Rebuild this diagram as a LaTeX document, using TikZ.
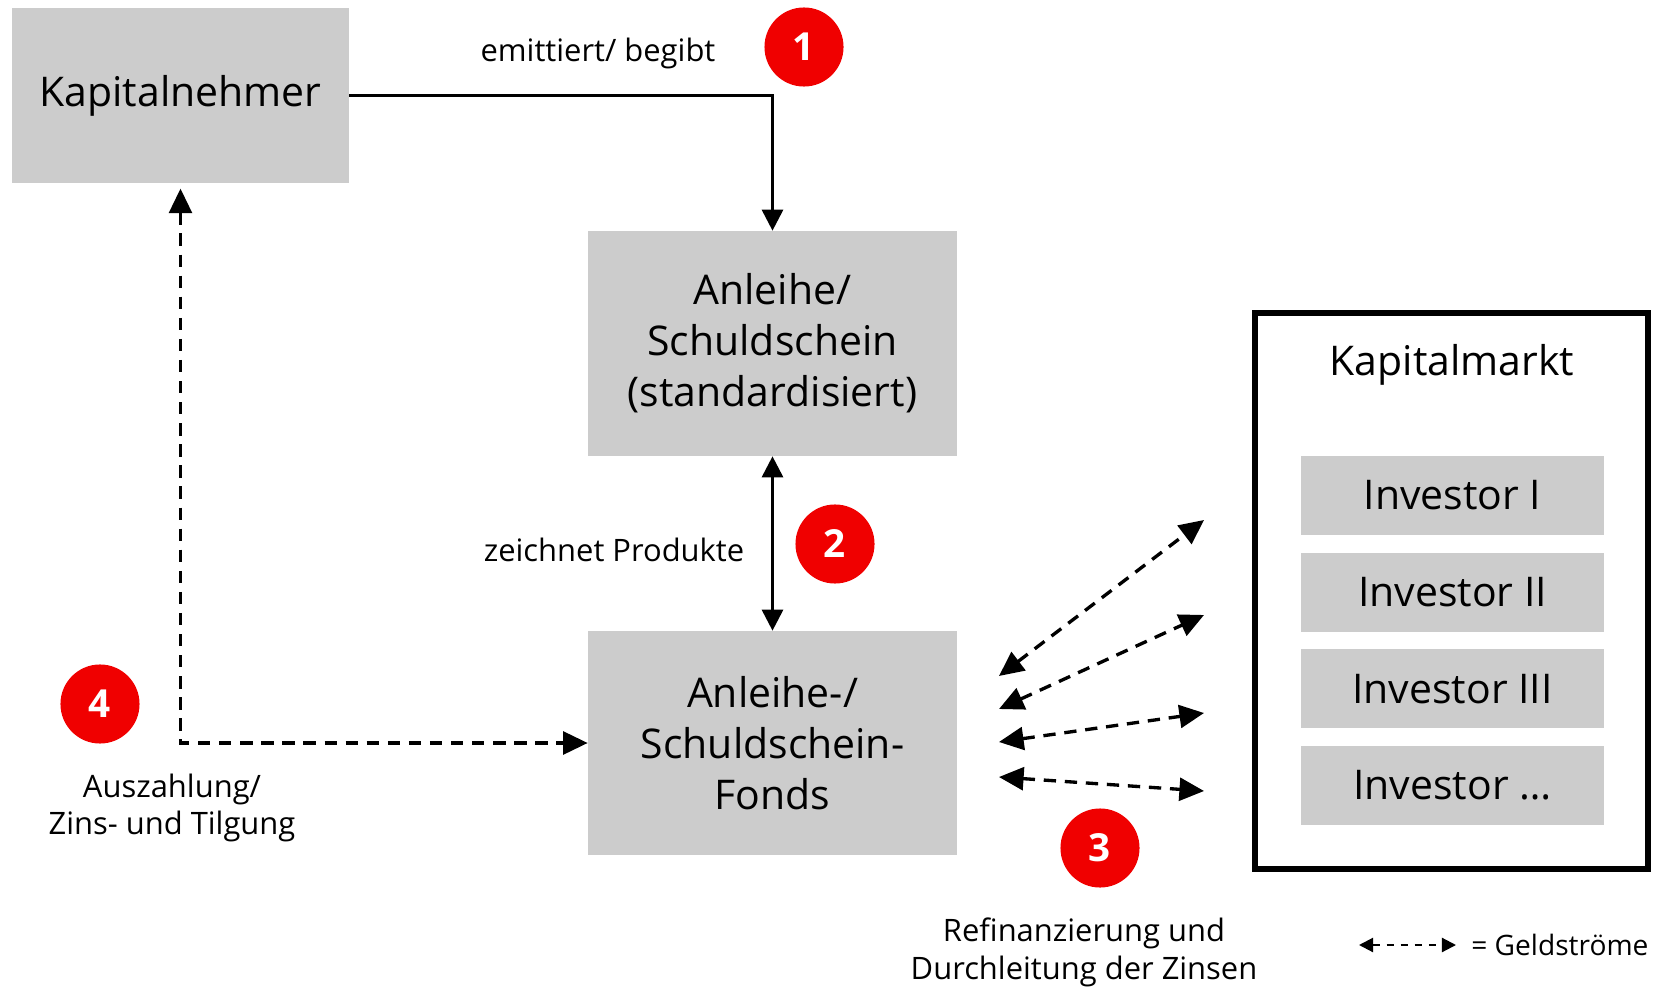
\documentclass[tikz,border=0pt]{standalone}
\usepackage{fontspec}
\setmainfont{Open Sans}
\usetikzlibrary{arrows.meta}
\usetikzlibrary{positioning}
\definecolor{box-grey}{RGB}{204,204,204}
\definecolor{mark-red}{RGB}{240,0,0}

\tikzset{
  greybox/.style={fill=box-grey, align=center, inner sep=0pt, font=\fontsize{23.3}{29}\selectfont},
  invbox/.style={greybox, minimum width=6.06cm, minimum height=1.58cm},
  numdot/.style={circle, fill=mark-red, text=white, minimum size=45pt, inner sep=0pt, font=\bfseries\fontsize{22}{26}\selectfont},
  note/.style={align=center, font=\fontsize{17.6}{21.5}\selectfont},
  flow/.style={line width=1.7pt, -{Triangle[length=12pt,width=12pt]}},
  money/.style={line width=1.9pt, dash pattern=on 7pt off 5pt, {Triangle[length=14pt,width=13pt]}-{Triangle[length=14pt,width=13pt]}},
}

\begin{document}
\begin{tikzpicture}[x=0.02cm, y=-0.02cm]
\useasboundingbox (0,0) rectangle (1654,990);

% boxes
\node[greybox, minimum width=6.74cm, minimum height=3.5cm] (kn) at (180.5,95.5) {Kapitalnehmer};
\node[greybox, minimum width=7.38cm, minimum height=4.5cm] (anl) at (772.5,343.5) {Anleihe/\\Schuldschein\\(standardisiert)};
\node[greybox, minimum width=7.38cm, minimum height=4.48cm] (fonds) at (772.5,743) {Anleihe-/\\Schuldschein-\\Fonds};

% Kapitalmarkt
\node[draw, line width=3.4pt, minimum width=7.86cm, minimum height=11.12cm, inner sep=0pt] (km) at (1451.5,591) {};
\node[font=\fontsize{23.3}{26}\selectfont] (kmtitle) at (1452,365) {Kapitalmarkt};
\node[invbox] (inv1) at (1452.5,495.5) {Investor I};
\node[invbox, below=0.34cm of inv1] (inv2) {Investor II};
\node[invbox, below=0.34cm of inv2] (inv3) {Investor III};
\node[invbox, below=0.34cm of inv3] (inv4) {Investor \dots};

% numbers
\node[numdot] (n1) at (804,47) {1};
\node[numdot] (n2) at (835,544) {2};
\node[numdot] (n3) at (1100,848) {3};
\node[numdot] (n4) at (100,704) {4};

% labels
\node[note] (lbl1) at (598,53) {emittiert/ begibt};
\node[note] (lbl2) at (614,550) {zeichnet Produkte};
\node[note] (lbl3) at (1084,952) {Refinanzierung und\\Durchleitung der Zinsen};
\node[note] (lbl4) at (172,808) {Auszahlung/\\Zins- und Tilgung};

% connectors
\draw[flow] (kn.east) -| (anl.north);
\draw[flow, {Triangle[length=12pt,width=12pt]}-{Triangle[length=12pt,width=12pt]}] (anl.south) -- (fonds.north);
\draw[money] ([yshift=-3pt]kn.south) |- (fonds.west);

% money flows to the market
\coordinate (a1) at (999,676);
\coordinate (b1) at (1204,520);
\coordinate (a2) at (999,709);
\coordinate (b2) at (1204,615);
\coordinate (a3) at (999,742);
\coordinate (b3) at (1204,713);
\coordinate (a4) at (999,777);
\coordinate (b4) at (1204,791);
\draw[money] (a1) -- (b1);
\draw[money] (a2) -- (b2);
\draw[money] (a3) -- (b3);
\draw[money] (a4) -- (b4);

% legend
\coordinate (la) at (1359,945);
\coordinate (lb) at (1456,945);
\draw[line width=1.2pt, dash pattern=on 4pt off 4pt, {Triangle[length=8pt,width=8pt]}-{Triangle[length=8pt,width=8pt]}] (la) -- (lb);
\node[anchor=west, inner sep=0pt, font=\fontsize{16}{20}\selectfont] (legend) at (1471,945) {= Geldströme};
\end{tikzpicture}
\end{document}
